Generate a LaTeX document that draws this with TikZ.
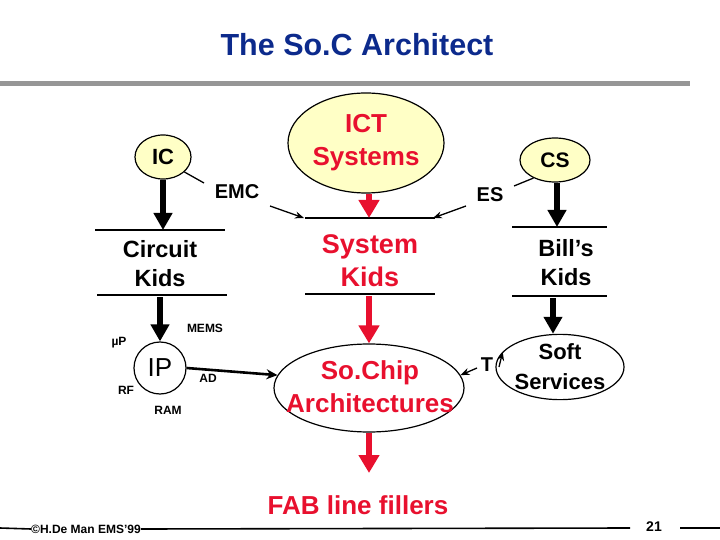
\documentclass[tikz,border=0pt]{standalone}
\usepackage{fontspec}
\setmainfont{Liberation Sans}
\usetikzlibrary{arrows.meta,shapes.geometric}
\definecolor{sred}{RGB}{232,16,46}
\definecolor{syel}{RGB}{255,255,198}
\definecolor{sblue}{RGB}{12,42,140}
\definecolor{sgray}{RGB}{150,150,150}
\tikzset{
  bubble/.style={ellipse,draw=black,line width=1.2pt,inner sep=0pt},
  yb/.style={bubble,fill=syel},
  bigtxt/.style={font=\bfseries\fontsize{23.5}{29}\selectfont,align=center,inner sep=0pt},
  redtxt/.style={font=\bfseries\fontsize{26}{33}\selectfont,align=center,inner sep=0pt,text=sred},
  midtxt/.style={font=\bfseries\fontsize{20}{24}\selectfont,inner sep=0pt},
  smalltxt/.style={font=\bfseries\fontsize{12}{14}\selectfont,inner sep=0pt},
  bar/.style={line width=1.6pt},
  blkarrow/.style={line width=5.5pt,-{Triangle[width=18pt,length=17pt]}},
  redarrow/.style={sred,line width=6.5pt,-{Triangle[width=20pt,length=18pt]}},
  thinarrow/.style={line width=1.3pt,-{Stealth[width=7pt,length=9pt]}},
  medarrow/.style={line width=2.6pt,-{Stealth[width=10pt,length=11pt]}},
}
\begin{document}
\begin{tikzpicture}[x=1pt,y=-1pt]
\useasboundingbox (0,0) rectangle (720,540);
% title
\node[text=sblue,font=\bfseries\fontsize{30.5}{34}\selectfont,inner sep=0pt] (title) at (357,45) {The So.C Architect};
\draw[sgray,line width=5pt] (0,84) -- (690,84);
% top bubbles
\node[yb,minimum width=56pt,minimum height=44pt,font=\bfseries\fontsize{22}{26}\selectfont] (ic) at (163,157) {IC};
\node[yb,minimum width=156pt,minimum height=100pt,redtxt] (ict) at (366,143) {ICT\\Systems};
\node[yb,minimum width=70pt,minimum height=44pt,font=\bfseries\fontsize{21}{26}\selectfont] (cs) at (555,160) {CS};
% labels
\node[midtxt] (emc) at (237,192) {EMC};
\node[midtxt] (es) at (490,195) {ES};
\draw[line width=1.3pt] (ic.-35) -- (204,183);
\draw[line width=1.3pt] (cs.-140) -- (514,186);
% kids bars
\coordinate (ckt) at (160,230); \coordinate (ckb) at (160,295);
\draw[bar] (95,230) -- (225,230);
\draw[bar] (97,295) -- (227,295);
\node[bigtxt] (circuit) at (160,264) {Circuit\\Kids};
\coordinate (skt) at (369,218); \coordinate (skb) at (369,294);
\draw[bar] (305,218) -- (435,218);
\draw[bar] (305,294) -- (435,294);
\node[redtxt,font=\bfseries\fontsize{27}{33}\selectfont] (system) at (370,261) {System\\Kids};
\coordinate (bkt) at (557,227); \coordinate (bkb) at (553,296);
\draw[bar] (512,227) -- (607,227);
\draw[bar] (512,296) -- (607,296);
\node[bigtxt] (bills) at (566,263) {Bill’s\\Kids};
% arrows into kids
\draw[blkarrow] (ic.south) -- (ic.south |- ckt);
\draw[blkarrow] (cs.south -| bkt) -- (bkt);
\draw[redarrow] (ict.south -| skt) -- (skt);
\coordinate (emcs) at (270,206); \coordinate (emce) at (304,218);
\coordinate (ess) at (466,206); \coordinate (ese) at (433,218);
\draw[thinarrow] (emcs) -- (emce);
\draw[thinarrow] (ess) -- (ese);
% IP
\node[circle,draw,line width=1.2pt,minimum size=52pt,inner sep=0pt,font=\fontsize{26}{30}\selectfont] (ip) at (160,368) {IP};
\draw[blkarrow] (ckb |- 0,297) -- (ip.north);
\node[smalltxt] (mems) at (205,328) {MEMS};
\node[smalltxt] (mup) at (119,343) {µP};
\node[smalltxt] (rf) at (126,390) {RF};
\node[smalltxt] (ram) at (168,410) {RAM};
\node[smalltxt] (ad) at (208,378) {AD};
% SoChip
\node[bubble,minimum width=190pt,minimum height=88pt] (sochip) at (369,388) {};
\node[redtxt] (sochiptxt) at (370,387) {So.Chip\\Architectures};
\draw[medarrow] (ip.east) -- (sochip.172);
\draw[redarrow] (skb |- 0,296) -- (sochip.north);
% Soft services
\node[bubble,minimum width=104pt,minimum height=64pt,font=\bfseries\fontsize{22}{30}\selectfont,align=center] (soft) at (560,367) {Soft\\Services};
\draw[blkarrow] (bkb |- 0,298) -- (bkb |- soft.north);
\node[midtxt] (t) at (487,365) {T};
\coordinate (t1) at (477,368); \coordinate (t2) at (499,367);
\draw[thinarrow] (t1) -- (sochip.8);
\draw[thinarrow] (t2) -- (soft.165);
% FAB
\node[redtxt] (fab) at (358,505) {FAB line fillers};
\draw[redarrow] (sochip.south) -- (369,473);
% footer
\node[font=\bfseries\fontsize{12}{14}\selectfont,inner sep=0pt] (copy) at (86,529) {©H.De Man EMS’99};
\node[font=\bfseries\fontsize{14}{16}\selectfont,inner sep=0pt] (pg) at (654,527) {21};
\draw[line width=1.6pt] (0,528) -- (copy.west);
\draw[line width=1.6pt] (copy.east) -- (630,528);
\draw[line width=1.6pt] (680,528) -- (720,528);
\end{tikzpicture}
\end{document}
